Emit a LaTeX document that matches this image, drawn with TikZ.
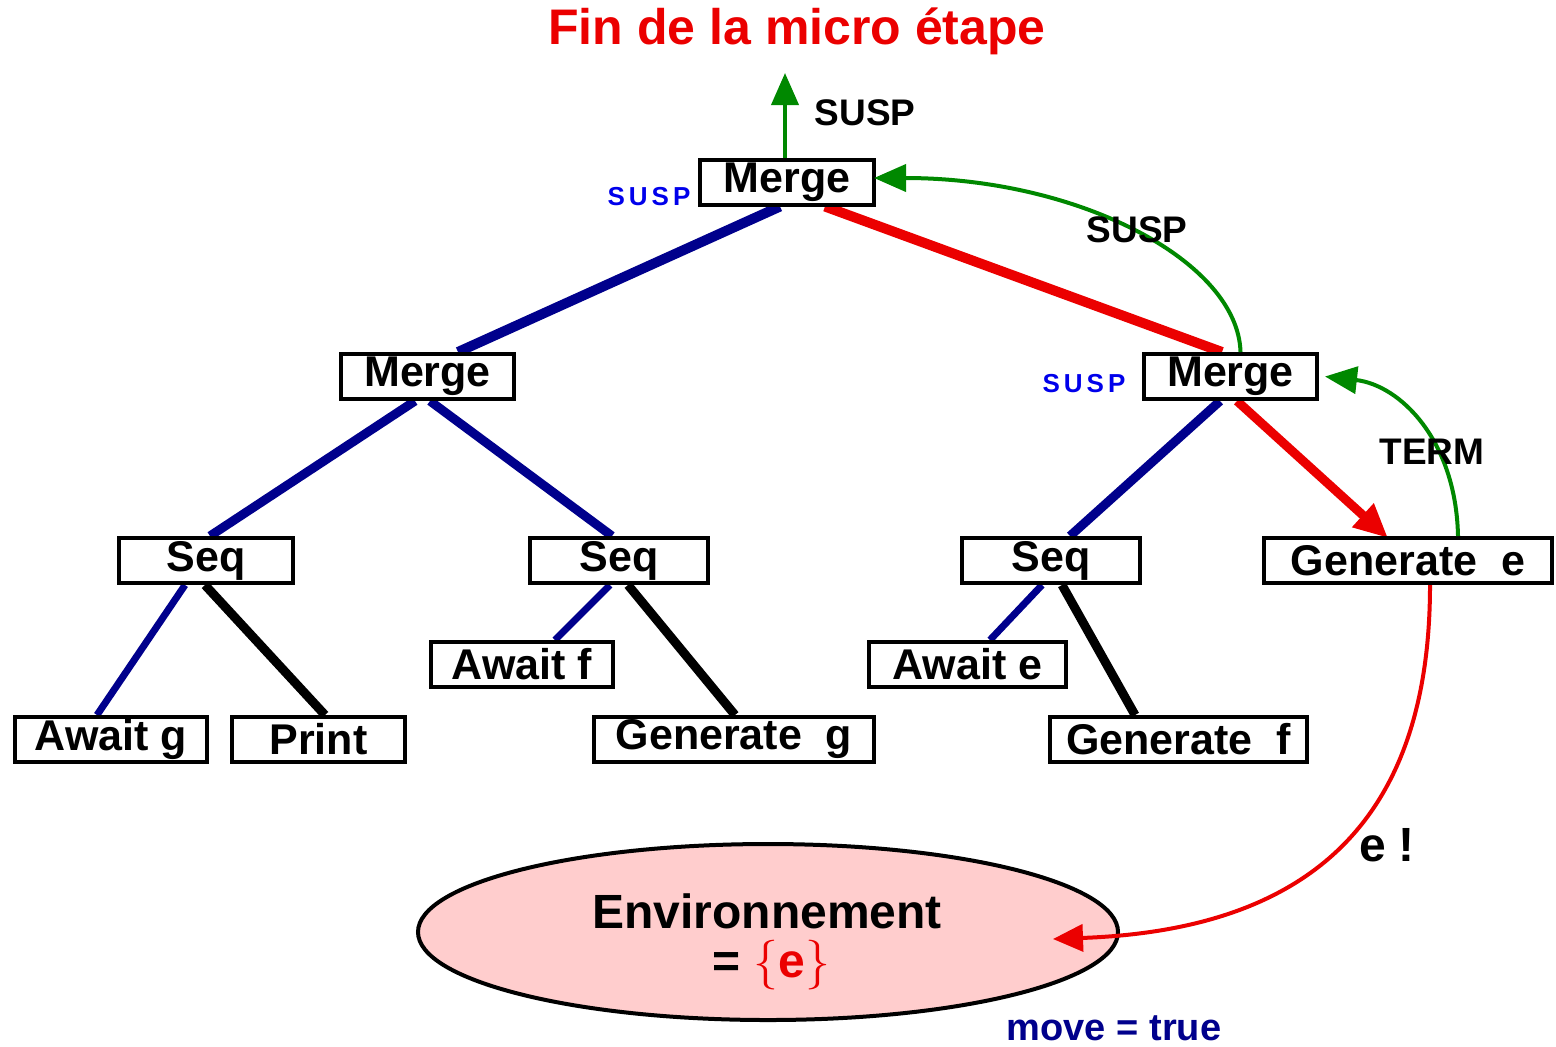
\documentclass[tikz,border=0pt]{standalone}
\usepackage{fontspec}
\setmainfont{Liberation Sans}
\usetikzlibrary{arrows.meta,shapes.geometric,calc,backgrounds}
\definecolor{navyedge}{RGB}{0,0,140}
\definecolor{linkred}{RGB}{235,0,0}
\definecolor{flowgreen}{RGB}{0,136,0}
\definecolor{suspblue}{RGB}{0,0,235}
\definecolor{envpink}{RGB}{255,205,205}
\newcommand{\spacedsusp}{S\kern2pt U\kern2pt S\kern2pt P}
\begin{document}
\begin{tikzpicture}[x=0.5pt,y=-0.5pt,
  box/.style={draw,line width=2pt,fill=white,inner sep=0pt,minimum height=22.5pt,
    font=\fontsize{21.5}{22}\selectfont\bfseries},
  lbl/.style={inner sep=0pt,font=\fontsize{18.5}{20}\selectfont\bfseries},
  smalllbl/.style={inner sep=0pt,text=suspblue,font=\fontsize{13}{14}\selectfont\bfseries},
  envfont/.style={inner sep=0pt,anchor=base,font=\fontsize{24}{25}\selectfont\bfseries},
  blueedge/.style={draw=navyedge,line width=#1},
  blackedge/.style={draw=black,line width=#1},
  rededge/.style={draw=linkred,line width=#1},
  greenflow/.style={draw=flowgreen,line width=2pt,-{Triangle[length=16pt,width=13.5pt]}},
  redflow/.style={draw=linkred,line width=2pt,-{Triangle[length=15pt,width=13.5pt]}},
]
\useasboundingbox (0,0) rectangle (1556,1046);

% title
\node[inner sep=0pt,text=linkred,font=\fontsize{25}{26}\selectfont\bfseries] (title) at (797,31) {Fin de la micro étape};

% tree nodes
\node[box,minimum width=87pt]   (mtop)   at (787,182)    {Merge};
\node[box,minimum width=86.5pt] (mleft)  at (427.5,376.5) {Merge};
\node[box,minimum width=86.5pt] (mright) at (1230.5,376.5) {Merge};
\node[box,minimum width=87pt]   (seqa)   at (206,560.5)  {Seq};
\node[box,minimum width=89pt]   (seqb)   at (619,560.5)  {Seq};
\node[box,minimum width=89pt]   (seqc)   at (1051,560.5) {Seq};
\node[box,minimum width=144pt]  (gene)   at (1408,560.5) {Generate~~e};
\node[box,minimum width=96pt]   (awaitg) at (111,739.5)  {Await g};
\node[box,minimum width=86.5pt] (print)  at (318.5,739.5) {Print};
\node[box,minimum width=91pt]   (awaitf) at (522,664.5)  {Await f};
\node[box,minimum width=140pt]  (geng)   at (734,739.5)  {Generate~~g};
\node[box,minimum width=98.5pt] (awaite) at (967.5,664.5) {Await e};
\node[box,minimum width=128.5pt](genf)   at (1178.5,739.5) {Generate~~f};

% tree edges, behind the boxes
\begin{scope}[on background layer]
  \draw[blueedge=5pt] ($(mtop.south)+(-7,0)$) -- ($(mleft.north)+(30.5,0)$);
  \draw[rededge=5pt]  ($(mtop.south)+(38,0)$) -- ($(mright.north)+(-8.5,0)$);
  \draw[blueedge=4.5pt] ($(mleft.south)+(-12.5,0)$) -- ($(seqa.north)+(4,0)$);
  \draw[blueedge=4.5pt] ($(mleft.south)+(2.5,0)$) -- ($(seqb.north)+(-7,0)$);
  \draw[blueedge=4.5pt] ($(mright.south)+(-10.5,0)$) -- ($(seqc.north)+(19,0)$);
  \draw[rededge=4.5pt,-{Triangle[length=17pt,width=15pt]}] ($(mright.south)+(6.5,0)$) -- ($(gene.north)+(-20,2)$);
  \draw[blueedge=3.5pt]  ($(seqa.south)+(-21,0)$) -- ($(awaitg.north)+(-14,0)$);
  \draw[blackedge=4.5pt] ($(seqa.south)+(-1,0)$) -- ($(print.north)+(6.5,0)$);
  \draw[blueedge=3.5pt]  ($(seqb.south)+(-9,0)$) -- ($(awaitf.north)+(33,0)$);
  \draw[blackedge=4.5pt] ($(seqb.south)+(9,0)$) -- ($(geng.north)+(1,0)$);
  \draw[blueedge=3.5pt]  ($(seqc.south)+(-9,0)$) -- ($(awaite.north)+(22.5,0)$);
  \draw[blackedge=4.5pt] ($(seqc.south)+(11,0)$) -- ($(genf.north)+(-43.5,0)$);
\end{scope}

% side labels
\node[smalllbl] (suspa) at (649,197) {\spacedsusp};
\node[smalllbl] (suspb) at (1084,384) {\spacedsusp};

% control flow going up
\coordinate (topend) at (785,73);
\draw[greenflow] ($(mtop.north)+(-2,0)$) -- (topend);
\node[lbl] (susptop) at (865,113) {SUSP};

\draw[greenflow] ($(mright.north)+(10,0)$) .. controls (1238,262) and (1080,178) .. ($(mtop.east)+(-2,-4)$);
\node[lbl] (suspmid) at (1137,230) {SUSP};

\draw[greenflow] ($(gene.north)+(50,0)$) .. controls (1456,440) and (1400,385) .. ($(mright.east)+(6,0)$);
\node[lbl] (term) at (1432,452) {TERM};

% environment
\node[ellipse,draw,line width=2pt,fill=envpink,inner sep=0pt,minimum width=350pt,minimum height=88pt] (env) at (768,932) {};
\node[envfont] (envname) at (767,928) {Environnement};
\node[envfont] (envset) at (771,977) {= \textcolor{linkred}{$\{$e$\}$}};

\coordinate (envin) at ($(env.center)+(285,7)$);
\draw[redflow] ($(gene.south)+(22,0)$) .. controls (1430,830) and (1300,930) .. (envin);
\node[inner sep=0pt,font=\fontsize{24}{25}\selectfont\bfseries] (emit) at (1387,845) {e~!};

\node[inner sep=0pt,text=navyedge,font=\fontsize{19}{20}\selectfont\bfseries] (move) at (1114,1028) {move = true};
\end{tikzpicture}
\end{document}
